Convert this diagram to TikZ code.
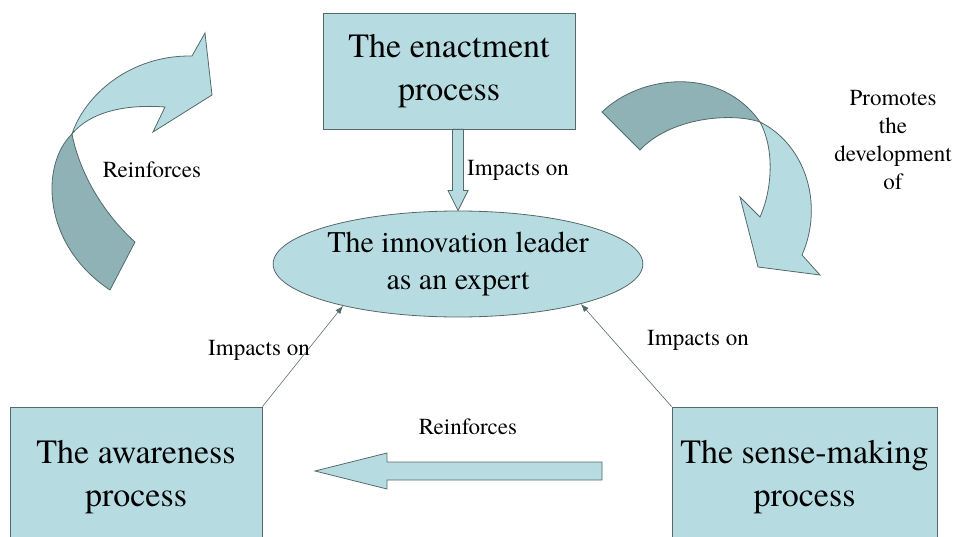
\documentclass[tikz,border=0pt]{standalone}
\usepackage{fontspec}
\newfontfamily\diagfont{texgyretermes}[Extension=.otf, UprightFont=*-regular]
\usepackage{xcolor}
\usepackage{tikz}
\usetikzlibrary{positioning,shapes,calc,arrows.meta}

\definecolor{boxfill}{RGB}{182,220,226}
\definecolor{twistfill}{RGB}{143,178,182}
\definecolor{edgegrey}{RGB}{85,105,105}

\begin{document}
\begin{tikzpicture}[x=1pt,y=-1pt,
		process/.style={draw=edgegrey, line width=0.8pt, fill=boxfill, align=center, inner sep=0pt,
			font=\diagfont\fontsize{34}{43}\selectfont},
		expert/.style={ellipse, draw=edgegrey, line width=0.8pt, fill=boxfill, align=center, inner sep=0pt,
			font=\diagfont\fontsize{30}{37}\selectfont},
		note/.style={font=\diagfont\fontsize{23}{28}\selectfont, align=center, inner sep=0pt},
		link/.style={draw=edgegrey, line width=0.6pt, -{Latex[length=8pt,width=6pt]}},
		block/.style={draw=edgegrey, line width=0.8pt, fill=boxfill, line join=miter},
		twist/.style={draw=edgegrey, line width=0.8pt, fill=twistfill}]
		\clip (0,0) rectangle (957,537);
		% the four processes
		\node[process, minimum width=252, minimum height=116] (enact) at (449,71) {The enactment\\process};
		\node[expert, minimum width=364, minimum height=106] (innov) at (458,264) {The innovation leader\\as an expert};
		\node[process, minimum width=252, minimum height=140] (aware) at (136,477) {The awareness\\process};
		\node[process, minimum width=265, minimum height=140] (sense) at (804.5,477) {The sense-making\\process};
		% hollow arrow down to the expert
		\draw[block] ($(enact.south -| innov.north)+(-5.5,0)$) -- ($(innov.north)+(-5.5,-20)$)
			-- ++(-4.5,0) -- (innov.north) -- ($(innov.north)+(10,-20)$) -- ++(-4.5,0)
			-- ($(enact.south -| innov.north)+(5.5,0)$) -- cycle;
		\node[note] (impEnact) at (518,170) {Impacts on};
		% thin links
		\draw[link] (aware.north east) -- (innov.200);
		\draw[link] (sense.north west) -- (innov.342);
		\node[note] (impAware) at (259,350) {Impacts on};
		\node[note] (impSense) at (698,340) {Impacts on};
		% sense-making back to awareness
		\coordinate (rtail) at (602,471);
		\coordinate (rtip) at (315,471);
		\draw[block] ($(rtail)+(0,-9)$) -- ($(rtip)+(72,-9)$) -- ($(rtip)+(72,-18)$) -- (rtip)
			-- ($(rtip)+(72,18)$) -- ($(rtip)+(72,9)$) -- ($(rtail)+(0,9)$) -- cycle;
		\node[note] (reinfLow) at (468,427) {Reinforces};
		% curved arrow, left
		\draw[twist] (72,134) .. controls (40,165) and (42,245) .. (110,290) -- (135,242)
			.. controls (105,215) and (80,175) .. (72,134) -- cycle;
		\draw[block] (72,134) .. controls (85,95) and (130,55) .. (192,56) -- (205,33) -- (212,95)
			-- (153,132) -- (165,107) .. controls (125,104) and (90,112) .. (72,134) -- cycle;
		\node[note] (reinfTop) at (152,170) {Reinforces};
		% curved arrow, right
		\draw[twist] (602,112) .. controls (640,75) and (720,65) .. (760,122)
			.. controls (730,112) and (670,118) .. (640,150) -- cycle;
		\draw[block] (760,122) .. controls (806,145) and (824,205) .. (802,255) -- (820,275) -- (758,267)
			-- (740,197) -- (760,217) .. controls (772,190) and (775,150) .. (760,122) -- cycle;
		\node[note] (promote) at (893,140) {Promotes\\the\\development\\of};
	\end{tikzpicture}
\end{document}
